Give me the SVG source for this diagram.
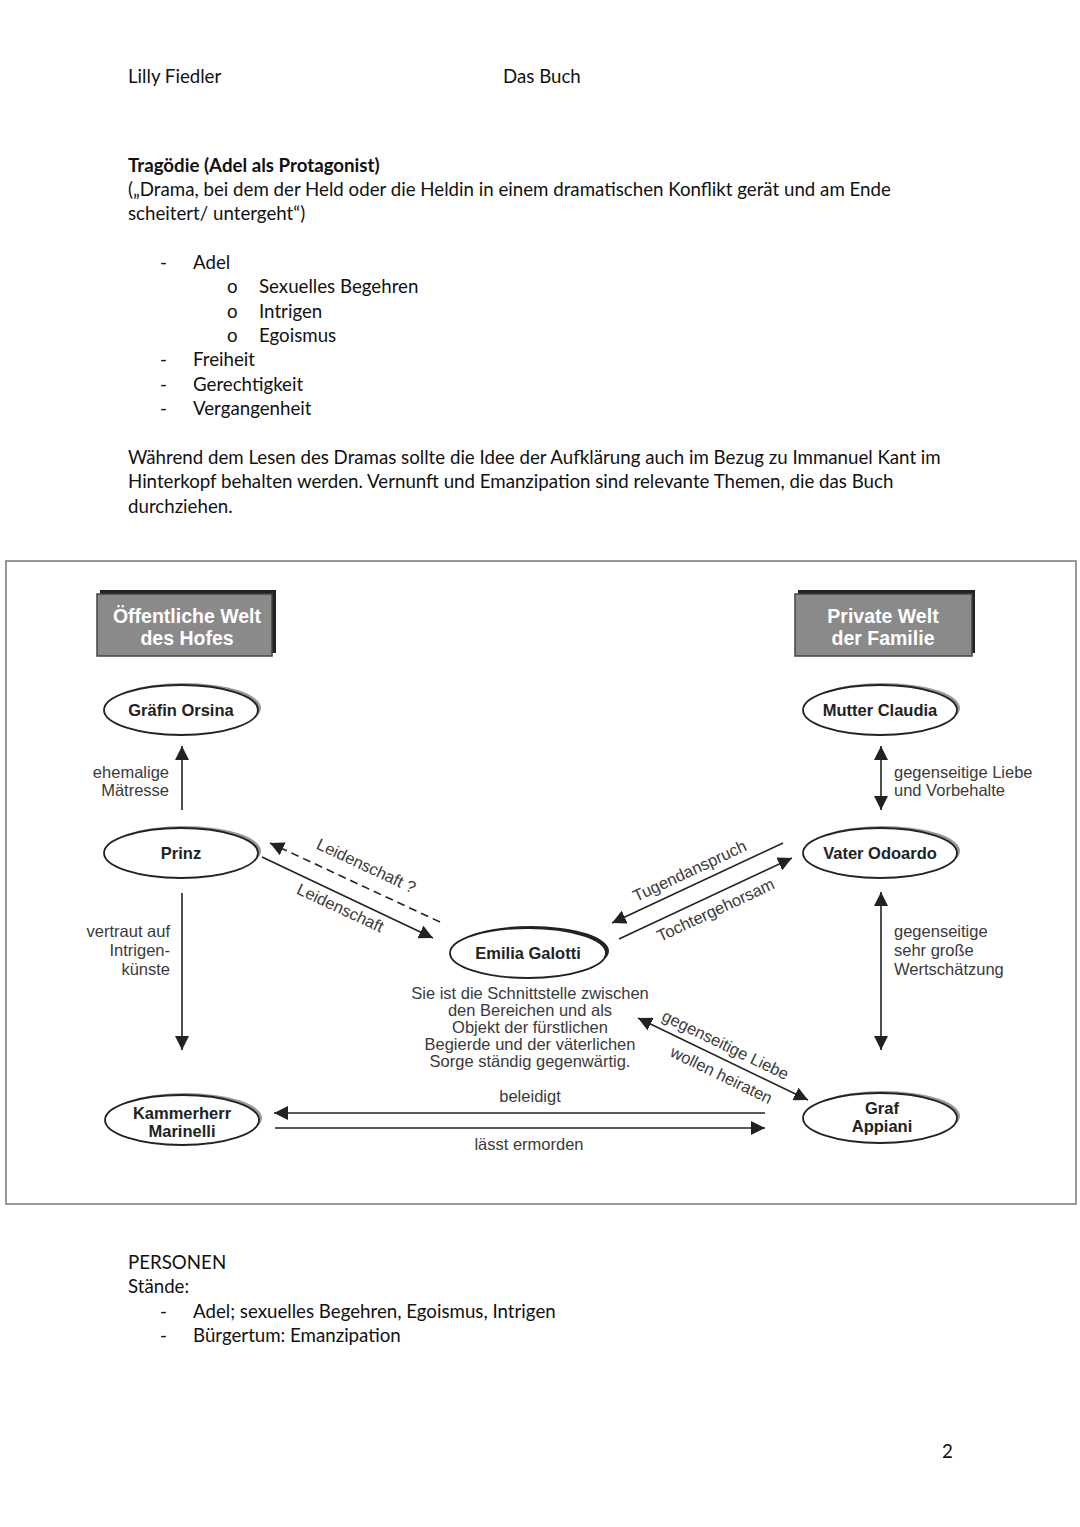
<svg xmlns="http://www.w3.org/2000/svg" width="1080" height="1527" viewBox="0 0 1080 1527">
<defs>
<style>
.doc{font-family:Lato,"Open Sans","Liberation Sans",sans-serif;font-size:18.7px;fill:#111}
.b{font-weight:bold}
.hd{font-family:"Liberation Sans",Arial,sans-serif;font-size:19.5px;font-weight:bold;fill:#fff;text-anchor:middle}
.nd{font-family:"Liberation Sans",Arial,sans-serif;font-size:16.5px;font-weight:bold;fill:#222;text-anchor:middle}
.lb{font-family:"Liberation Sans",Arial,sans-serif;font-size:16.5px;fill:#3a3a3a}
.mid{text-anchor:middle}
.end{text-anchor:end}
.ell{fill:#fff;stroke:#222;stroke-width:1.8}
.sh{fill:#999}
.ln{stroke:#222;stroke-width:1.6;fill:none}
.dash{stroke-dasharray:8 5}
</style>
<marker id="ah" viewBox="0 0 10 10" refX="10" refY="5" markerWidth="14" markerHeight="14" markerUnits="userSpaceOnUse" orient="auto-start-reverse">
<path d="M0,0 L10,5 L0,10 z" fill="#222"/>
</marker>
</defs>
<rect width="1080" height="1527" fill="#fff"/>

<g id="page-text" class="doc">
<text x="128" y="83">Lilly Fiedler</text>
<text x="503" y="83">Das Buch</text>
<text x="128" y="172" class="b">Tragödie (Adel als Protagonist)</text>
<text x="128" y="196">(„Drama, bei dem der Held oder die Heldin in einem dramatischen Konflikt gerät und am Ende</text>
<text x="128" y="220">scheitert/ untergeht“)</text>
<text x="160" y="269">-</text><text x="193" y="269">Adel</text>
<text x="227" y="293">o</text><text x="259" y="293">Sexuelles Begehren</text>
<text x="227" y="318">o</text><text x="259" y="318">Intrigen</text>
<text x="227" y="342">o</text><text x="259" y="342">Egoismus</text>
<text x="160" y="366">-</text><text x="193" y="366">Freiheit</text>
<text x="160" y="391">-</text><text x="193" y="391">Gerechtigkeit</text>
<text x="160" y="415">-</text><text x="193" y="415">Vergangenheit</text>
<text x="128" y="464">Während dem Lesen des Dramas sollte die Idee der Aufklärung auch im Bezug zu Immanuel Kant im</text>
<text x="128" y="488">Hinterkopf behalten werden. Vernunft und Emanzipation sind relevante Themen, die das Buch</text>
<text x="128" y="513">durchziehen.</text>
<text x="128" y="1269">PERSONEN</text>
<text x="128" y="1293">Stände:</text>
<text x="160" y="1318">-</text><text x="193" y="1318">Adel; sexuelles Begehren, Egoismus, Intrigen</text>
<text x="160" y="1342">-</text><text x="193" y="1342">Bürgertum: Emanzipation</text>
<text x="942" y="1458">2</text>
</g>

<rect x="6" y="561" width="1070" height="643" fill="none" stroke="#777" stroke-width="1.5"/>

<g id="hdr-left">
<rect x="100" y="590" width="176" height="63" fill="#222"/>
<rect x="97" y="594" width="175" height="62" fill="#8a8a8a" stroke="#444" stroke-width="1.5"/>
<text class="hd" x="187" y="623">Öffentliche Welt</text>
<text class="hd" x="187" y="645">des Hofes</text>
</g>
<g id="hdr-right">
<rect x="798" y="590" width="177" height="63" fill="#222"/>
<rect x="795" y="594" width="177" height="62" fill="#8a8a8a" stroke="#444" stroke-width="1.5"/>
<text class="hd" x="883" y="623">Private Welt</text>
<text class="hd" x="883" y="645">der Familie</text>
</g>

<g id="orsina"><ellipse class="sh" cx="184" cy="708" rx="77" ry="25"/><ellipse class="ell" cx="181" cy="710" rx="77" ry="25"/><text class="nd" x="181" y="716">Gräfin Orsina</text></g>
<g id="claudia"><ellipse class="sh" cx="883" cy="708" rx="77" ry="25"/><ellipse class="ell" cx="880" cy="710" rx="77" ry="25"/><text class="nd" x="880" y="716">Mutter Claudia</text></g>
<g id="prinz"><ellipse class="sh" cx="184" cy="851" rx="77" ry="25"/><ellipse class="ell" cx="181" cy="853" rx="77" ry="25"/><text class="nd" x="181" y="859">Prinz</text></g>
<g id="odoardo"><ellipse class="sh" cx="883" cy="851" rx="77" ry="25"/><ellipse class="ell" cx="880" cy="853" rx="77" ry="25"/><text class="nd" x="880" y="859">Vater Odoardo</text></g>
<g id="emilia"><ellipse cx="531" cy="951" rx="78" ry="25" fill="#222"/><ellipse class="ell" cx="528" cy="953" rx="78" ry="25"/><text class="nd" x="528" y="959">Emilia Galotti</text>
<g class="lb mid"><text x="530" y="999">Sie ist die Schnittstelle zwischen</text><text x="530" y="1016">den Bereichen und als</text><text x="530" y="1033">Objekt der fürstlichen</text><text x="530" y="1050">Begierde und der väterlichen</text><text x="530" y="1067">Sorge ständig gegenwärtig.</text></g></g>
<g id="marinelli"><ellipse class="sh" cx="185" cy="1118" rx="77" ry="25"/><ellipse class="ell" cx="182" cy="1120" rx="77" ry="25"/><text class="nd" x="182" y="1119">Kammerherr</text><text class="nd" x="182" y="1137">Marinelli</text></g>
<g id="appiani"><ellipse class="sh" cx="883" cy="1116" rx="77" ry="25"/><ellipse class="ell" cx="880" cy="1118" rx="77" ry="25"/><text class="nd" x="882" y="1114">Graf</text><text class="nd" x="882" y="1132">Appiani</text></g>

<g id="connectors">
<line class="ln" x1="182" y1="810" x2="182" y2="746" marker-end="url(#ah)"/>
<line class="ln" x1="182" y1="893" x2="182" y2="1050" marker-end="url(#ah)"/>
<line class="ln" x1="881" y1="746" x2="881" y2="810" marker-start="url(#ah)" marker-end="url(#ah)"/>
<line class="ln" x1="881" y1="892" x2="881" y2="1050" marker-start="url(#ah)" marker-end="url(#ah)"/>
<line class="ln dash" x1="440" y1="922" x2="270" y2="843" marker-end="url(#ah)"/>
<line class="ln" x1="262" y1="857" x2="433" y2="938" marker-end="url(#ah)"/>
<line class="ln" x1="783" y1="843" x2="612" y2="923" marker-end="url(#ah)"/>
<line class="ln" x1="619" y1="939" x2="792" y2="858" marker-end="url(#ah)"/>
<line class="ln" x1="638" y1="1018" x2="808" y2="1100" marker-start="url(#ah)" marker-end="url(#ah)"/>
<line class="ln" x1="765" y1="1113" x2="274" y2="1113" marker-end="url(#ah)"/>
<line class="ln" x1="275" y1="1128" x2="765" y2="1128" marker-end="url(#ah)"/>
</g>

<g id="labels" class="lb">
<text class="end" x="169" y="778">ehemalige</text>
<text class="end" x="169" y="796">Mätresse</text>
<text class="end" x="170" y="937">vertraut auf</text>
<text class="end" x="170" y="956">Intrigen-</text>
<text class="end" x="170" y="975">künste</text>
<text x="894" y="778">gegenseitige Liebe</text>
<text x="894" y="796">und Vorbehalte</text>
<text x="894" y="937">gegenseitige</text>
<text x="894" y="956">sehr große</text>
<text x="894" y="975">Wertschätzung</text>
<text class="mid" transform="translate(364,871) rotate(25)">Leidenschaft ?</text>
<text class="mid" transform="translate(338,913) rotate(25)">Leidenschaft</text>
<text class="mid" transform="translate(692,876) rotate(-25)">Tugendanspruch</text>
<text class="mid" transform="translate(718,915) rotate(-25)">Tochtergehorsam</text>
<text class="mid" transform="translate(723,1050) rotate(26)">gegenseitige Liebe</text>
<text class="mid" transform="translate(719,1080) rotate(26)">wollen heiraten</text>
<text class="mid" x="530" y="1102">beleidigt</text>
<text class="mid" x="529" y="1150">lässt ermorden</text>
</g>
</svg>
